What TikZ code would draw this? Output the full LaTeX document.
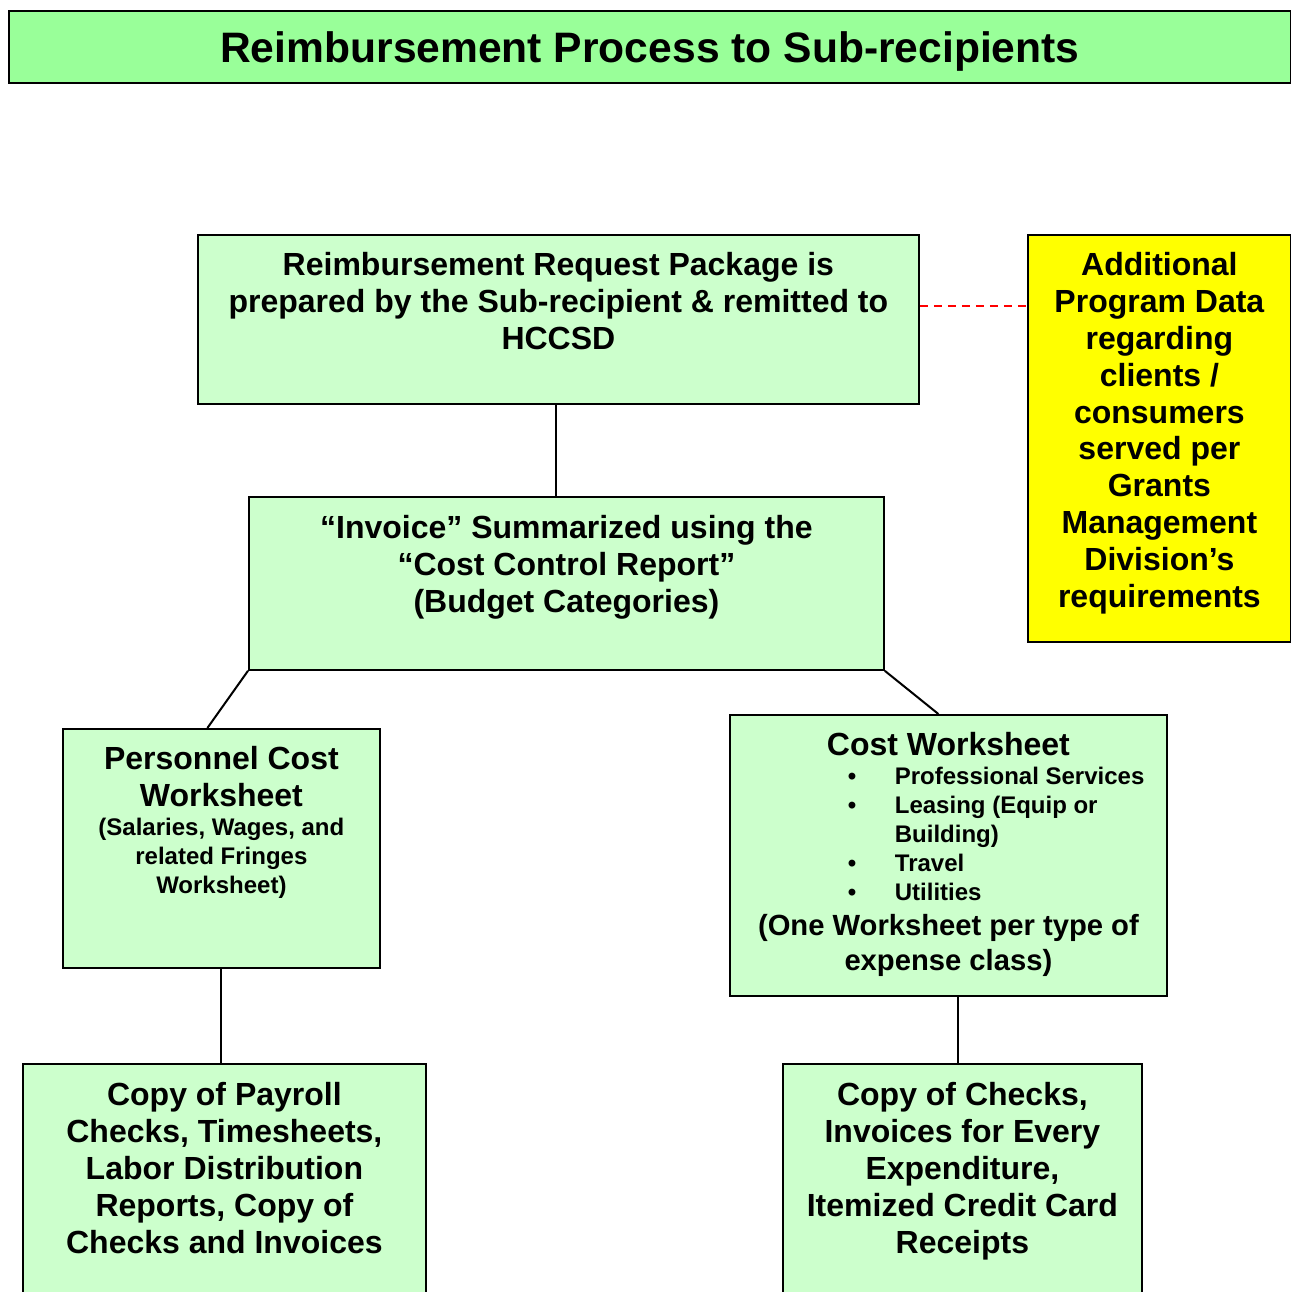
\documentclass[tikz,border=0pt]{standalone}
\usepackage{xcolor}
\usepackage{fontspec}
\setmainfont{Liberation Sans}
\usepackage{tikz}
\usetikzlibrary{positioning,calc}
\definecolor{titlegreen}{RGB}{153,255,153}
\definecolor{boxgreen}{RGB}{204,255,204}
\definecolor{noteyellow}{RGB}{255,255,0}
\definecolor{dashred}{RGB}{255,0,0}
\newcommand{\bodyfont}{\fontsize{16}{18.45}\selectfont\bfseries}
\newcommand{\smallfont}{\fontsize{12}{14.5}\selectfont\bfseries}
\newcommand{\midfont}{\fontsize{14.6}{17.5}\selectfont\bfseries}
\newcommand{\boxtext}[4]{\begin{minipage}[t][#2][t]{#1}\centering\leavevmode\rule{0pt}{#3}#4\end{minipage}}
\tikzset{
    chartbox/.style={draw=black, line width=0.9pt, inner sep=0pt, anchor=north west},
    greenbox/.style={chartbox, fill=boxgreen},
    notebox/.style={chartbox, fill=noteyellow},
    link/.style={draw=black, line width=1pt},
    dashlink/.style={draw=dashred, line width=0.6pt, dash pattern=on 4pt off 3pt}
}

\begin{document}
\begin{tikzpicture}[x=0.5pt, y=-0.5pt]
        \useasboundingbox (0,0) rectangle (1291,1292);
        \clip (0,0) rectangle (1291,1292);

        \node[chartbox, fill=titlegreen, minimum width=641pt, minimum height=36pt,
              font=\fontsize{21.3}{24}\selectfont\bfseries, text height=15.5pt, text depth=0pt]
              (title) at (8,10) {Reimbursement Process to Sub-recipients};

        \node[greenbox] (request) at (197,234) {\boxtext{360.5pt}{84.5pt}{20.25pt}{\bodyfont
            Reimbursement Request Package is\\
            prepared by the Sub-recipient \& remitted to\\
            HCCSD}};

        \node[notebox] (extra) at (1027,234) {\boxtext{131.5pt}{203.5pt}{20.25pt}{\bodyfont
            Additional\\ Program Data\\ regarding\\ clients /\\ consumers\\
            served per\\ Grants\\ Management\\ Division’s\\ requirements}};

        \node[greenbox] (invoice) at (248,496) {\boxtext{317.5pt}{86.5pt}{20.75pt}{\bodyfont
            “Invoice” Summarized using the\\
            “Cost Control Report”\\
            (Budget Categories)}};

        \node[greenbox] (personnel) at (62,728) {\boxtext{158.5pt}{119.5pt}{20.25pt}{\bodyfont
            Personnel Cost\\ Worksheet\par
            \smallfont (Salaries, Wages, and\\ related Fringes\\ Worksheet)}};

        \node[greenbox] (costws) at (729,714) {\boxtext{218.5pt}{140.5pt}{20.25pt}{\bodyfont
            Cost Worksheet\par
            {\smallfont\raggedright
            \hspace*{59pt}\makebox[23.5pt][l]{\textbullet}Professional Services\\
            \hspace*{59pt}\makebox[23.5pt][l]{\textbullet}Leasing (Equip or\\
            \hspace*{82.5pt}Building)\\
            \hspace*{59pt}\makebox[23.5pt][l]{\textbullet}Travel\\
            \hspace*{59pt}\makebox[23.5pt][l]{\textbullet}Utilities\par}
            \midfont (One Worksheet per type of\\ expense class)}};

        \node[greenbox] (payroll) at (22,1063) {\boxtext{201.5pt}{150pt}{20.75pt}{\bodyfont
            Copy of Payroll\\ Checks, Timesheets,\\ Labor Distribution\\
            Reports, Copy of\\ Checks and Invoices}};

        \node[greenbox] (checks) at (782,1063) {\boxtext{179.5pt}{150pt}{20.75pt}{\bodyfont
            Copy of Checks,\\ Invoices for Every\\ Expenditure,\\
            Itemized Credit Card\\ Receipts}};

        \draw[dashlink] ([yshift=-36pt]request.north east) -- ([yshift=-36pt]extra.north west);
        \draw[link] ([xshift=-1pt]request.south) -- ([xshift=-1pt]request.south |- invoice.north);
        \draw[link] (invoice.south west) -- ([xshift=-7pt]personnel.north);
        \draw[link] (invoice.south east) -- ([xshift=-5pt]costws.north);
        \draw[link] (personnel.south) -- (personnel.south |- payroll.north);
        \draw[link] ([xshift=-2pt]checks.north |- costws.south) -- ([xshift=-2pt]checks.north);
    \end{tikzpicture}
\end{document}
